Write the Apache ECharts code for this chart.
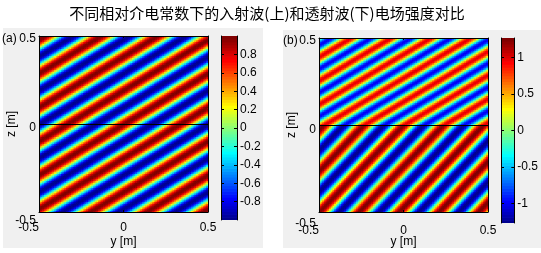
<!DOCTYPE html>
<html><head><meta charset="utf-8">
<script src="https://cdn.jsdelivr.net/npm/echarts@6/dist/echarts.min.js"></script>
<style>html,body{margin:0;padding:0;background:#fff;}#c{width:541px;height:253px;}</style>
</head><body><div id="c"></div><script>
// ---------- data ----------
const titleText = '不同相对介电常数下的入射波(上)和透射波(下)电场强度对比';
const panelLabels = ['(a)', '(b)'];
const axisTicks = [-0.5, 0, 0.5];
const yName = 'y [m]', zName = 'z [m]';
// wave parameters per region: [upper (incident), lower (transmitted)]
const wavelengthA = [0.1667, 0.1667];
const angleDegA = [30, 30];
const amplitudeA = [1, 1];
const wavelengthB = [0.118, 0.1667];
const angleDegB = [30, 45];
const amplitudeB = [1, 1.27];
const cbarRangeA = [-1, 1];
const cbarTicksA = [-0.8, -0.6, -0.4, -0.2, 0, 0.2, 0.4, 0.6, 0.8];
const cbarRangeB = [-1.27, 1.27];
const cbarTicksB = [-1, -0.5, 0, 0.5, 1];
const cells = 100;

// ---------- MATLAB jet(64) ----------
function jetTable(m) {
  const n = Math.ceil(m / 4);
  const u = [];
  for (let i = 1; i <= n; i++) u.push(i / n);
  for (let i = 1; i < n; i++) u.push(1);
  for (let i = n; i >= 1; i--) u.push(i / n);
  const J = [];
  for (let i = 0; i < m; i++) J.push([0, 0, 0]);
  const off = Math.ceil(n / 2) - (m % 4 === 1 ? 1 : 0);
  for (let k = 1; k <= u.length; k++) {
    const g = off + k, r = g + n, b = g - n;
    if (g >= 1 && g <= m) J[g - 1][1] = u[k - 1];
    if (r >= 1 && r <= m) J[r - 1][0] = u[k - 1];
    if (b >= 1 && b <= m) J[b - 1][2] = u[k - 1];
  }
  return J.map(c => 'rgb(' + c.map(x => Math.round(x * 255)).join(',') + ')');
}
const JET = jetTable(64);
function colorOf(v, range) {
  let i = Math.floor((v - range[0]) / (range[1] - range[0]) * 64);
  if (i < 0) i = 0; if (i > 63) i = 63;
  return JET[i];
}

function buildField(lam, ang, amp) {
  const out = [];
  const d = 1 / cells;
  for (let i = 0; i < cells; i++) {
    const y = -0.5 + (i + 0.5) * d;
    for (let j = 0; j < cells; j++) {
      const z = -0.5 + (j + 0.5) * d;
      const r = z >= 0 ? 0 : 1;
      const k = 2 * Math.PI / lam[r];
      const th = ang[r] * Math.PI / 180;
      const v = amp[r] * Math.cos(k * Math.sin(th) * y - k * Math.cos(th) * z);
      out.push([y, z, v]);
    }
  }
  return out;
}
const fieldA = buildField(wavelengthA, angleDegA, amplitudeA);
const fieldB = buildField(wavelengthB, angleDegB, amplitudeB);
const levels = Array.from({length: 64}, (_, i) => [i]);

function fieldRender(range) {
  return function (params, api) {
    const y = api.value(0), z = api.value(1), v = api.value(2);
    const h = 0.5 / cells;
    const a = api.coord([y - h, z + h]), b = api.coord([y + h, z - h]);
    return {type: 'rect', shape: {x: a[0], y: a[1], width: b[0] - a[0] + 0.7, height: b[1] - a[1] + 0.7},
      style: {fill: colorOf(v, range)}};
  };
}
function cbarRender(range) {
  return function (params, api) {
    const i = api.value(0);
    const step = (range[1] - range[0]) / 64;
    const a = api.coord([0, range[0] + (i + 1) * step]), b = api.coord([1, range[0] + i * step]);
    return {type: 'rect', shape: {x: a[0], y: a[1], width: b[0] - a[0], height: b[1] - a[1] + 0.7},
      style: {fill: JET[i]}};
  };
}

const FONT = 'Liberation Sans, Arial, sans-serif';
const lbl = {color: '#000', fontFamily: FONT, fontSize: 12};
const line = {show: true, onZero: false, lineStyle: {color: '#000', width: 1}};
const tick = {inside: true, length: 2, lineStyle: {color: '#000'}};
const AX = {min: axisTicks[0], max: axisTicks[2], interval: axisTicks[1] - axisTicks[0]};

// frame axes: line + ticks (+ name), labels carried by overlay axes
function plotX(grid, name) {
  return [
    Object.assign({type: 'value', gridIndex: grid, position: 'bottom', z: 10,
      axisLine: line, axisTick: tick, axisLabel: {show: false}, splitLine: {show: false},
      name: name, nameLocation: 'middle', nameGap: 24, nameTextStyle: lbl}, AX),
    Object.assign({type: 'value', gridIndex: grid, position: 'top', z: 10,
      axisLine: line, axisTick: tick, axisLabel: {show: false}, splitLine: {show: false}}, AX)
  ];
}
function plotY(grid, name) {
  return [
    Object.assign({type: 'value', gridIndex: grid, position: 'left', z: 10,
      axisLine: line, axisTick: tick, axisLabel: {show: false}, splitLine: {show: false},
      name: name, nameLocation: 'middle', nameGap: 21, nameRotate: 90, nameTextStyle: lbl}, AX),
    Object.assign({type: 'value', gridIndex: grid, position: 'right', z: 10,
      axisLine: line, axisTick: tick, axisLabel: {show: false}, splitLine: {show: false}}, AX)
  ];
}
function labelX(grid) {
  return [Object.assign({type: 'value', gridIndex: grid, position: 'bottom', z: 10,
    axisLine: {show: false}, axisTick: {show: false}, splitLine: {show: false},
    axisLabel: Object.assign({margin: 5, lineHeight: 8, alignMinLabel: 'right', hideOverlap: false}, lbl)}, AX)];
}
function labelY(grid) {
  const rs = {fontFamily: FONT, fontSize: 12, lineHeight: 8, color: '#000'};
  return [Object.assign({type: 'value', gridIndex: grid, position: 'left', z: 10,
    axisLine: {show: false}, axisTick: {show: false}, splitLine: {show: false},
    axisLabel: Object.assign({margin: 3, lineHeight: 8, hideOverlap: false,
      formatter: v => (v === axisTicks[2] ? '{t|' + v + '}' : v === axisTicks[0] ? '{b|' + v + '}' : String(v)),
      rich: {t: Object.assign({padding: [6, 0, 0, 0]}, rs), b: Object.assign({padding: [4, 0, 0, 0]}, rs)}}, lbl)}, AX)];
}
function hiddenAxis(grid) {
  return [Object.assign({type: 'value', gridIndex: grid, show: false}, AX)];
}
function cbarX(grid) {
  return [{type: 'value', gridIndex: grid, min: 0, max: 1, show: false}];
}
function cbarY(grid, range, ticks) {
  return [
    {type: 'value', gridIndex: grid, min: range[0], max: range[1], position: 'right', z: 10,
      axisLine: line, axisTick: {inside: true, length: 3, customValues: ticks, lineStyle: {color: '#000'}},
      axisLabel: Object.assign({margin: 3, customValues: ticks}, lbl), splitLine: {show: false}},
    {type: 'value', gridIndex: grid, min: range[0], max: range[1], position: 'left', z: 10,
      axisLine: line, axisTick: {inside: true, length: 3, customValues: ticks, lineStyle: {color: '#000'}},
      axisLabel: {show: false}, splitLine: {show: false}}
  ];
}

const zeroLine = {silent: true, symbol: 'none', animation: false, label: {show: false},
  lineStyle: {color: '#000', width: 1, type: 'solid'}, data: [{yAxis: 0}]};

const plotRectA = {left: 39, top: 36, width: 169, height: 183};
const plotRectB = {left: 319, top: 38, width: 169, height: 184};

const option = {
  animation: false,
  backgroundColor: '#fff',
  graphic: [
    {type: 'rect', z: -10, shape: {x: 3, y: 28, width: 260, height: 220}, style: {fill: '#f0f0f0'}},
    {type: 'rect', z: -10, shape: {x: 283, y: 30, width: 258, height: 218}, style: {fill: '#f0f0f0'}},
    {type: 'text', x: 267, y: 13, style: {text: titleText, fontFamily: 'Noto Sans CJK SC', fontSize: 15,
      fill: '#000', align: 'center', verticalAlign: 'middle'}},
    {type: 'text', x: 2, y: 39, style: {text: panelLabels[0], fontFamily: FONT, fontSize: 12, fill: '#000',
      align: 'left', verticalAlign: 'middle'}},
    {type: 'text', x: 283, y: 41, style: {text: panelLabels[1], fontFamily: FONT, fontSize: 12, fill: '#000',
      align: 'left', verticalAlign: 'middle'}}
  ],
  grid: [
    plotRectA,
    {left: 221, top: 36, width: 16, height: 184},
    plotRectB,
    {left: 501, top: 38, width: 17, height: 185},
    plotRectA, plotRectB, plotRectA, plotRectB
  ],
  xAxis: [].concat(plotX(0, yName), cbarX(1), plotX(2, yName), cbarX(3),
    labelX(4), labelX(5), hiddenAxis(6), hiddenAxis(7)),
  yAxis: [].concat(plotY(0, zName), cbarY(1, cbarRangeA, cbarTicksA), plotY(2, zName), cbarY(3, cbarRangeB, cbarTicksB),
    hiddenAxis(4), hiddenAxis(5), labelY(6), labelY(7)),
  series: [
    {type: 'custom', xAxisIndex: 0, yAxisIndex: 0, data: fieldA, renderItem: fieldRender(cbarRangeA),
      clip: true, silent: true, progressive: 0, markLine: zeroLine},
    {type: 'custom', xAxisIndex: 2, yAxisIndex: 2, data: levels, renderItem: cbarRender(cbarRangeA),
      clip: true, silent: true, progressive: 0},
    {type: 'custom', xAxisIndex: 3, yAxisIndex: 4, data: fieldB, renderItem: fieldRender(cbarRangeB),
      clip: true, silent: true, progressive: 0, markLine: zeroLine},
    {type: 'custom', xAxisIndex: 5, yAxisIndex: 6, data: levels, renderItem: cbarRender(cbarRangeB),
      clip: true, silent: true, progressive: 0}
  ]
};
const chart = echarts.init(document.getElementById('c'), null, {renderer: 'canvas'});
chart.setOption(option);
</script></body></html>
